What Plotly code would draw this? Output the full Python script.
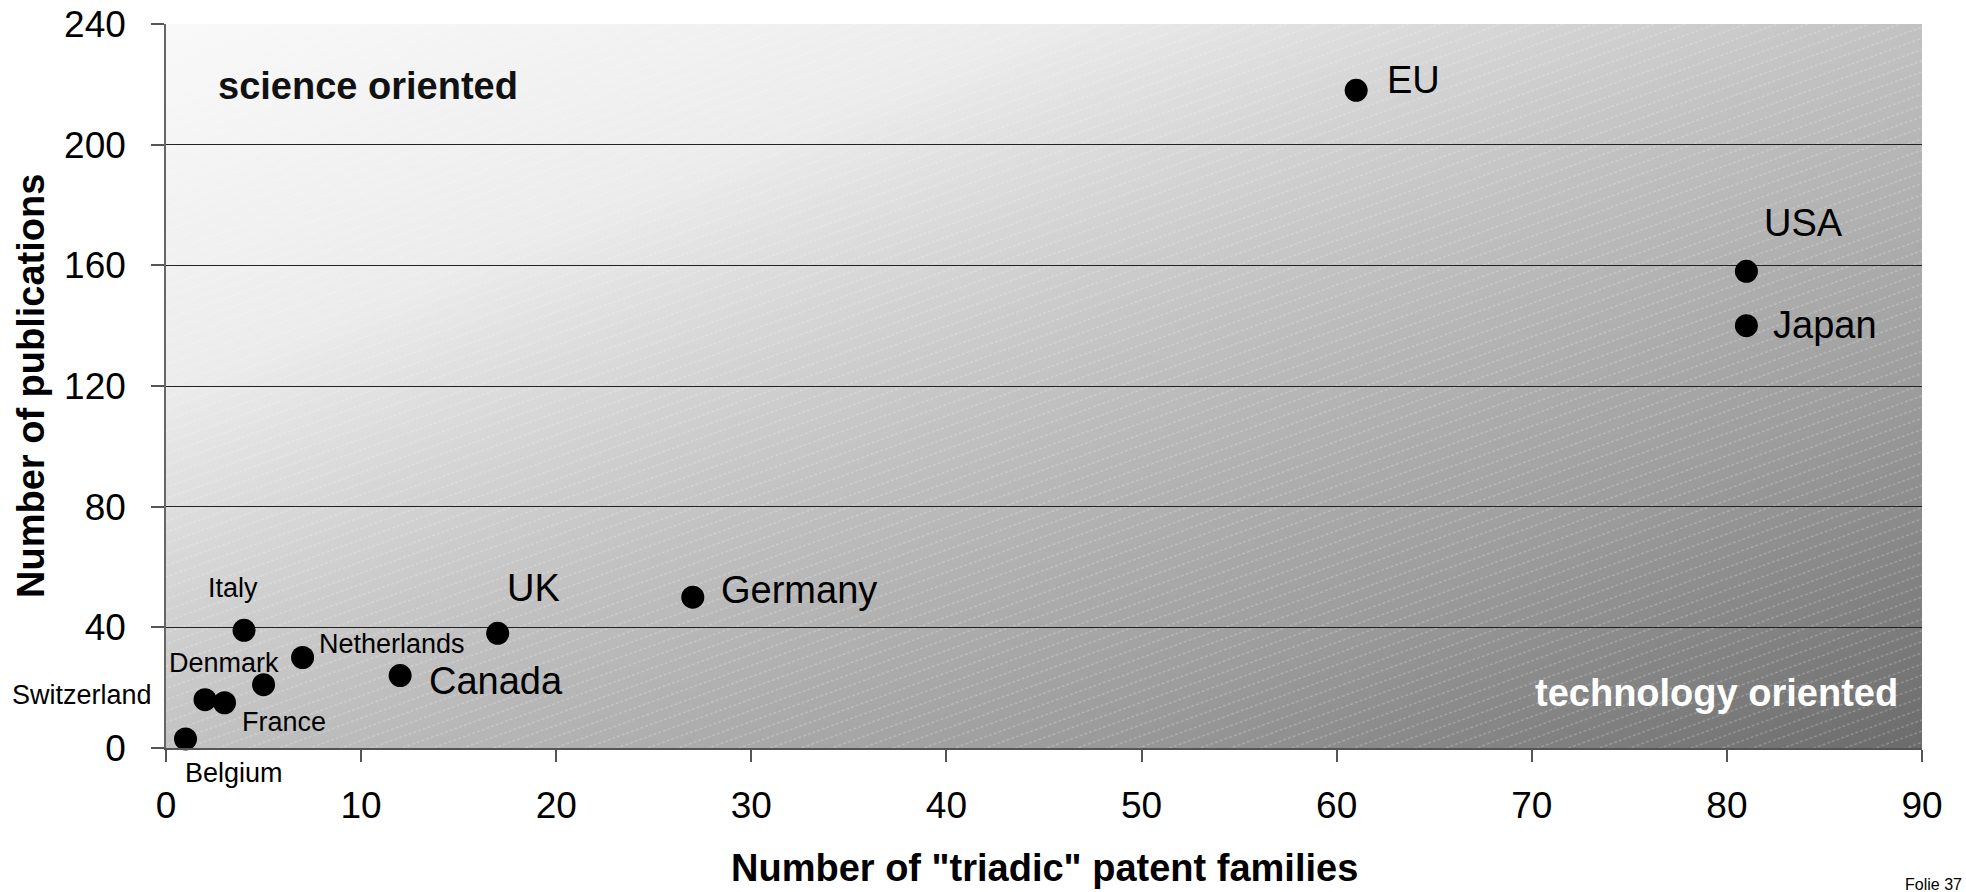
import base64
import plotly.graph_objects as go

# Triadic patent families vs. publications per country/region
countries = ["EU", "USA", "Japan", "Germany", "UK", "Canada", "Netherlands",
             "Italy", "France", "Denmark", "Switzerland", "Belgium"]
patent_families = [61, 81, 81, 27, 17, 12, 7, 4, 5, 3, 2, 1]
publications = [218, 158, 140, 50, 38, 24, 30, 39, 21, 15, 16, 3]

x_ticks = [0, 10, 20, 30, 40, 50, 60, 70, 80, 90]
y_ticks = [0, 40, 80, 120, 160, 200, 240]

FONT = "Liberation Sans, Arial, sans-serif"
BIG, SMALL = 38, 27

# label placement relative to each marker: (xshift, yshift, xanchor, size)
label_style = {
    "EU": (29, 10, "left", BIG),
    "USA": (57, 48, "center", BIG),
    "Japan": (25, 1, "left", BIG),
    "Germany": (26, 7, "left", BIG),
    "UK": (36, 45, "center", BIG),
    "Canada": (27, -5, "left", BIG),
    "Netherlands": (14, 14, "left", SMALL),
    "Italy": (-11, 42, "center", SMALL),
    "France": (20, -37, "center", SMALL),
    "Denmark": (-1, 40, "center", SMALL),
    "Switzerland": (-51, 5, "right", SMALL),
    "Belgium": (48, -34, "center", SMALL),
}

# plot-area background: diagonal grey gradient with faint dashed hatching
W, H = 1756, 724
svg = f'''<svg xmlns="http://www.w3.org/2000/svg" width="{W}" height="{H}" viewBox="0 0 {W} {H}" preserveAspectRatio="none">
<defs>
<linearGradient id="g" x1="0" y1="0" x2="1" y2="1">
<stop offset="0" stop-color="#f9f9f9"/>
<stop offset="0.25" stop-color="#ececec"/>
<stop offset="0.5" stop-color="#c2c2c2"/>
<stop offset="0.75" stop-color="#9c9c9c"/>
<stop offset="1" stop-color="#6b6b6b"/>
</linearGradient>
<pattern id="h" width="40" height="10.5" patternUnits="userSpaceOnUse" patternTransform="rotate(-20)">
<line x1="0" y1="5" x2="40" y2="5" stroke="#ffffff" stroke-opacity="0.32" stroke-width="1" stroke-dasharray="3 2"/>
</pattern>
</defs>
<rect x="0" y="0" width="{W}" height="{H}" fill="url(#g)"/>
<rect x="0" y="0" width="{W}" height="{H}" fill="url(#h)"/>
</svg>'''
bg_src = "data:image/svg+xml;base64," + base64.b64encode(svg.encode()).decode()

fig = go.Figure()
fig.add_trace(go.Scatter(
    x=patent_families, y=publications, mode="markers",
    marker=dict(size=23, color="black", line=dict(width=0)),
    cliponaxis=False, hoverinfo="text", text=countries,
))

annotations = []
for name, xv, yv in zip(countries, patent_families, publications):
    dx, dy, anchor, size = label_style[name]
    annotations.append(dict(
        x=xv, y=yv, xref="x", yref="y", text=name, showarrow=False,
        xshift=dx, yshift=dy, xanchor=anchor, yanchor="middle",
        font=dict(family=FONT, size=size, color="black"),
    ))

# region captions
annotations.append(dict(
    x=0.0285, y=0.9137, xref="paper", yref="paper", text="<b>science oriented</b>",
    showarrow=False, xanchor="left", yanchor="middle",
    font=dict(family=FONT, size=BIG, color="#111111"),
))
annotations.append(dict(
    x=0.9875, y=0.076, xref="paper", yref="paper", text="<b>technology oriented</b>",
    showarrow=False, xanchor="right", yanchor="middle",
    font=dict(family=FONT, size=BIG, color="white"),
))

# axis titles
annotations.append(dict(
    x=0.5, y=-0.1657, xref="paper", yref="paper",
    text='<b>Number of "triadic" patent families</b>',
    showarrow=False, xanchor="center", yanchor="middle",
    font=dict(family=FONT, size=BIG, color="black"),
))
annotations.append(dict(
    x=-0.0769, y=0.5, xref="paper", yref="paper",
    text="<b>Number of publications</b>", textangle=-90,
    showarrow=False, xanchor="center", yanchor="middle",
    font=dict(family=FONT, size=BIG, color="black"),
))

# slide footer
annotations.append(dict(
    x=0.9892, y=-0.188, xref="paper", yref="paper", text="Folie 37",
    showarrow=False, xanchor="left", yanchor="middle",
    font=dict(family=FONT, size=16, color="black"),
))

fig.update_layout(
    width=1966, height=892,
    margin=dict(l=166, r=44, t=24, b=144, autoexpand=False),
    paper_bgcolor="white", plot_bgcolor="rgba(0,0,0,0)",
    showlegend=False,
    annotations=annotations,
    images=[dict(
        source=bg_src, xref="paper", yref="paper", x=0, y=1,
        sizex=1, sizey=1, xanchor="left", yanchor="top",
        sizing="stretch", layer="below",
    )],
    xaxis=dict(
        range=[0, 90], tickvals=x_ticks, ticktext=[str(v) for v in x_ticks],
        showgrid=False, zeroline=False, automargin=False,
        showline=True, linecolor="#555555", linewidth=2,
        ticks="outside", ticklen=12, tickwidth=1.5, tickcolor="#555555",
        tickfont=dict(family=FONT, size=37, color="black"),
        ticklabelstandoff=12,
    ),
    yaxis=dict(
        range=[0, 240], tickvals=y_ticks, ticktext=[str(v) for v in y_ticks],
        showgrid=True, gridcolor="#222222", gridwidth=1.3, zeroline=False,
        automargin=False,
        showline=True, linecolor="#666666", linewidth=1.5,
        ticks="outside", ticklen=13, tickwidth=1.5, tickcolor="#555555",
        tickfont=dict(family=FONT, size=37, color="black"),
        ticklabelstandoff=18,
    ),
)

fig.write_html("out.html")
